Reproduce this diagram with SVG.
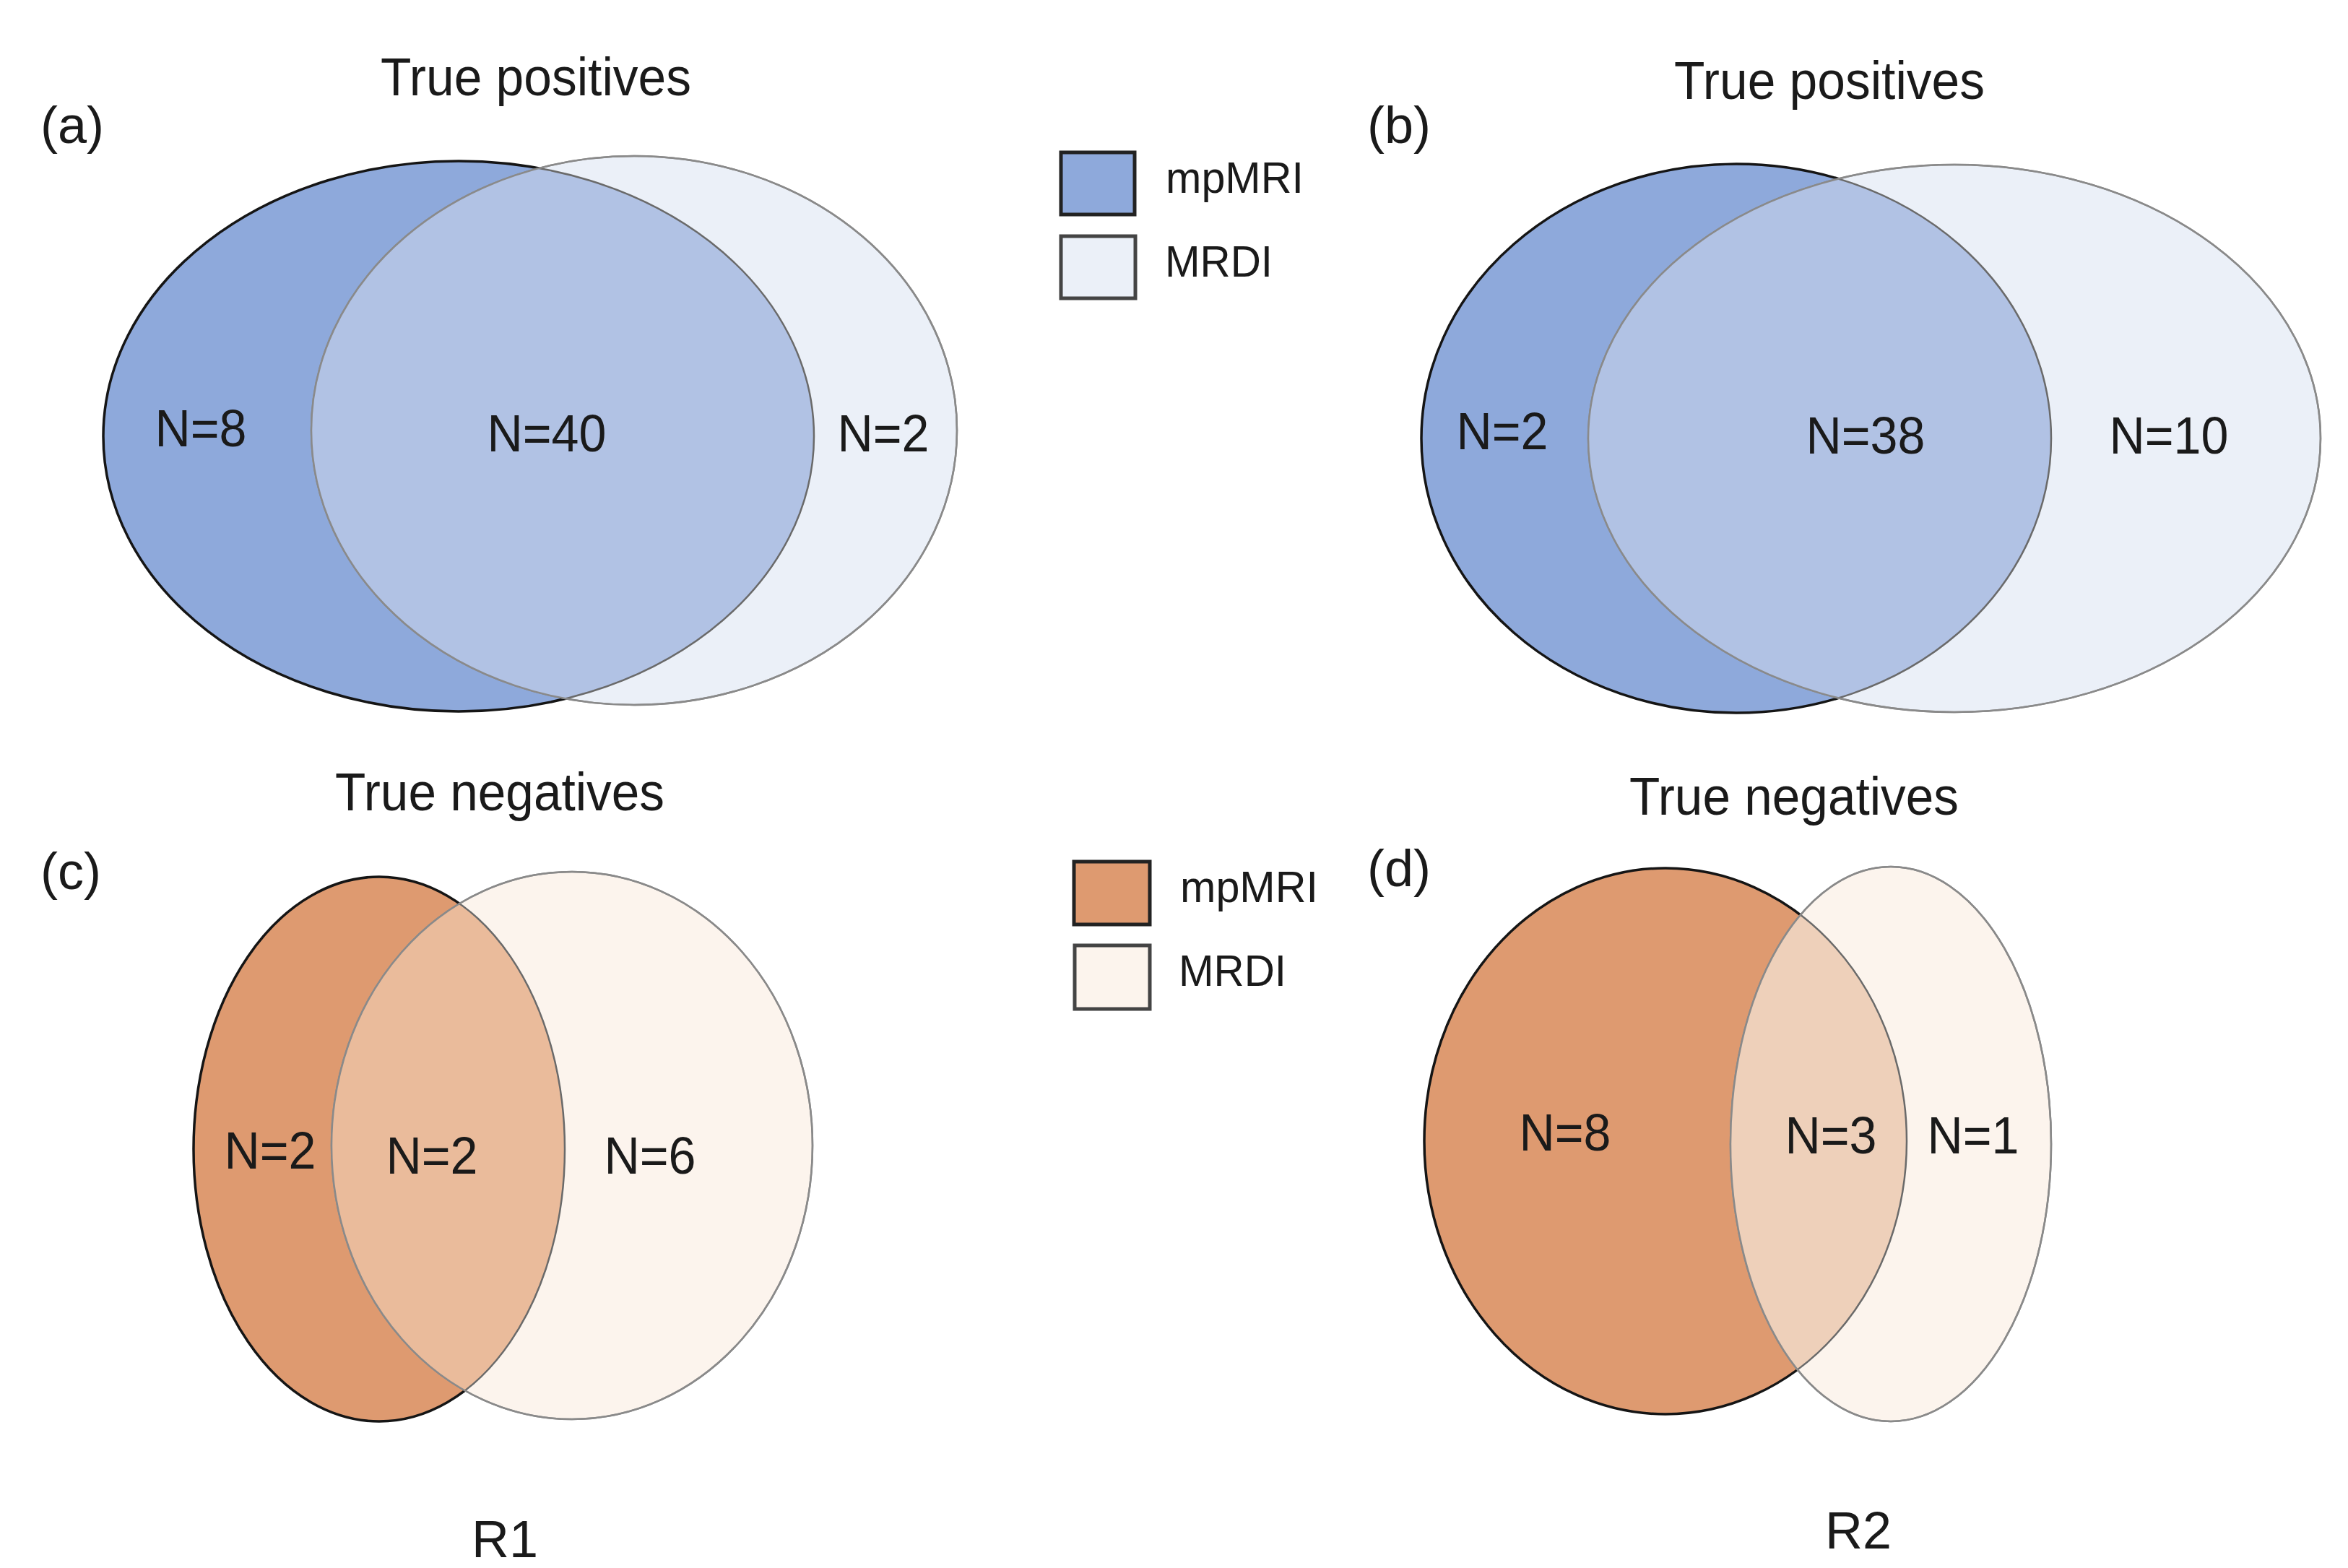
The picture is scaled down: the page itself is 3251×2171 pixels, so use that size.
<svg xmlns="http://www.w3.org/2000/svg" width="3251" height="2171" viewBox="0 0 3251 2171">
<style>
text{font-family:"Liberation Sans",Arial,sans-serif;fill:#1a1a1a}
.t{font-size:74px;text-anchor:middle}
.p{font-size:72px}
.n{font-size:72px;text-anchor:middle}
.lg{font-size:61px}
.om{stroke:#151515;stroke-width:3.5}
.on{fill:none;stroke:#8a8a8a;stroke-width:2.5}
.oi{fill:none;stroke:#6a6a6a;stroke-width:2.5}
.bA{fill:#8EA9DB}.bI{fill:#B1C2E4}.bL{fill:#EBF0F8}
.rA{fill:#DE9A70}.rI{fill:#EABB9B}.rI2{fill:#EED0BA}.rL{fill:#FCF4ED}
.box{stroke:#222;stroke-width:5}
.box2{stroke:#444;stroke-width:5}
</style>
<defs>
<clipPath id="ca"><ellipse cx="635" cy="604" rx="492" ry="381"/></clipPath>
<clipPath id="cb"><ellipse cx="2404" cy="607" rx="436" ry="380"/></clipPath>
<clipPath id="cc"><ellipse cx="525" cy="1591" rx="257" ry="377"/></clipPath>
<clipPath id="cd"><ellipse cx="2306" cy="1580" rx="334" ry="378"/></clipPath>
<clipPath id="ca2"><ellipse cx="878" cy="596" rx="447" ry="380"/></clipPath>
<clipPath id="cb2"><ellipse cx="2706" cy="607" rx="507" ry="379"/></clipPath>
<clipPath id="cc2"><ellipse cx="792" cy="1586" rx="333" ry="379"/></clipPath>
<clipPath id="cd2"><ellipse cx="2618" cy="1584" rx="222" ry="384"/></clipPath>
</defs>
<rect width="3251" height="2171" fill="#fff"/>

<g id="panel-a">
<text class="p" x="56" y="198">(a)</text>
<text class="t" x="742" y="132" textLength="430" lengthAdjust="spacingAndGlyphs">True positives</text>
<ellipse class="bA om" cx="635" cy="604" rx="492" ry="381"/>
<ellipse class="bL on" cx="878" cy="596" rx="447" ry="380"/>
<ellipse class="bI" clip-path="url(#ca)" cx="878" cy="596" rx="447" ry="380"/>
<ellipse class="oi" clip-path="url(#ca2)" cx="635" cy="604" rx="492" ry="381"/>
<ellipse class="on" cx="878" cy="596" rx="447" ry="380"/>
<text class="n" x="278" y="618" textLength="127" lengthAdjust="spacingAndGlyphs">N=8</text>
<text class="n" x="757" y="625" textLength="165" lengthAdjust="spacingAndGlyphs">N=40</text>
<text class="n" x="1223" y="625" textLength="127" lengthAdjust="spacingAndGlyphs">N=2</text>
</g>

<g id="legend-blue">
<rect class="bA box" x="1469" y="211" width="102" height="86"/>
<rect class="bL box2" x="1469" y="327" width="103" height="86"/>
<text class="lg" x="1614" y="267" textLength="191" lengthAdjust="spacingAndGlyphs">mpMRI</text>
<text class="lg" x="1613" y="383" textLength="149" lengthAdjust="spacingAndGlyphs">MRDI</text>
</g>

<g id="panel-b">
<text class="p" x="1893" y="198">(b)</text>
<text class="t" x="2533" y="137" textLength="430" lengthAdjust="spacingAndGlyphs">True positives</text>
<ellipse class="bA om" cx="2404" cy="607" rx="436" ry="380"/>
<ellipse class="bL on" cx="2706" cy="607" rx="507" ry="379"/>
<ellipse class="bI" clip-path="url(#cb)" cx="2706" cy="607" rx="507" ry="379"/>
<ellipse class="oi" clip-path="url(#cb2)" cx="2404" cy="607" rx="436" ry="380"/>
<ellipse class="on" cx="2706" cy="607" rx="507" ry="379"/>
<text class="n" x="2080" y="622" textLength="127" lengthAdjust="spacingAndGlyphs">N=2</text>
<text class="n" x="2583" y="628" textLength="165" lengthAdjust="spacingAndGlyphs">N=38</text>
<text class="n" x="3003" y="628" textLength="165" lengthAdjust="spacingAndGlyphs">N=10</text>
</g>

<g id="panel-c">
<text class="p" x="56" y="1231">(c)</text>
<text class="t" x="692" y="1122" textLength="456" lengthAdjust="spacingAndGlyphs">True negatives</text>
<ellipse class="rA om" cx="525" cy="1591" rx="257" ry="377"/>
<ellipse class="rL on" cx="792" cy="1586" rx="333" ry="379"/>
<ellipse class="rI" clip-path="url(#cc)" cx="792" cy="1586" rx="333" ry="379"/>
<ellipse class="oi" clip-path="url(#cc2)" cx="525" cy="1591" rx="257" ry="377"/>
<ellipse class="on" cx="792" cy="1586" rx="333" ry="379"/>
<text class="n" x="374" y="1618" textLength="127" lengthAdjust="spacingAndGlyphs">N=2</text>
<text class="n" x="598" y="1625" textLength="127" lengthAdjust="spacingAndGlyphs">N=2</text>
<text class="n" x="900" y="1625" textLength="127" lengthAdjust="spacingAndGlyphs">N=6</text>
<text class="n" x="699" y="2156">R1</text>
</g>

<g id="legend-orange">
<rect class="rA box" x="1487" y="1193" width="105" height="87"/>
<rect class="rL box2" x="1488" y="1309" width="104" height="88"/>
<text class="lg" x="1634" y="1249" textLength="191" lengthAdjust="spacingAndGlyphs">mpMRI</text>
<text class="lg" x="1632" y="1365" textLength="149" lengthAdjust="spacingAndGlyphs">MRDI</text>
</g>

<g id="panel-d">
<text class="p" x="1893" y="1227">(d)</text>
<text class="t" x="2484" y="1128" textLength="456" lengthAdjust="spacingAndGlyphs">True negatives</text>
<ellipse class="rA om" cx="2306" cy="1580" rx="334" ry="378"/>
<ellipse class="rL on" cx="2618" cy="1584" rx="222" ry="384"/>
<ellipse class="rI2" clip-path="url(#cd)" cx="2618" cy="1584" rx="222" ry="384"/>
<ellipse class="oi" clip-path="url(#cd2)" cx="2306" cy="1580" rx="334" ry="378"/>
<ellipse class="on" cx="2618" cy="1584" rx="222" ry="384"/>
<text class="n" x="2167" y="1593" textLength="127" lengthAdjust="spacingAndGlyphs">N=8</text>
<text class="n" x="2535" y="1597" textLength="127" lengthAdjust="spacingAndGlyphs">N=3</text>
<text class="n" x="2732" y="1597" textLength="127" lengthAdjust="spacingAndGlyphs">N=1</text>
<text class="n" x="2573" y="2144">R2</text>
</g>
</svg>
